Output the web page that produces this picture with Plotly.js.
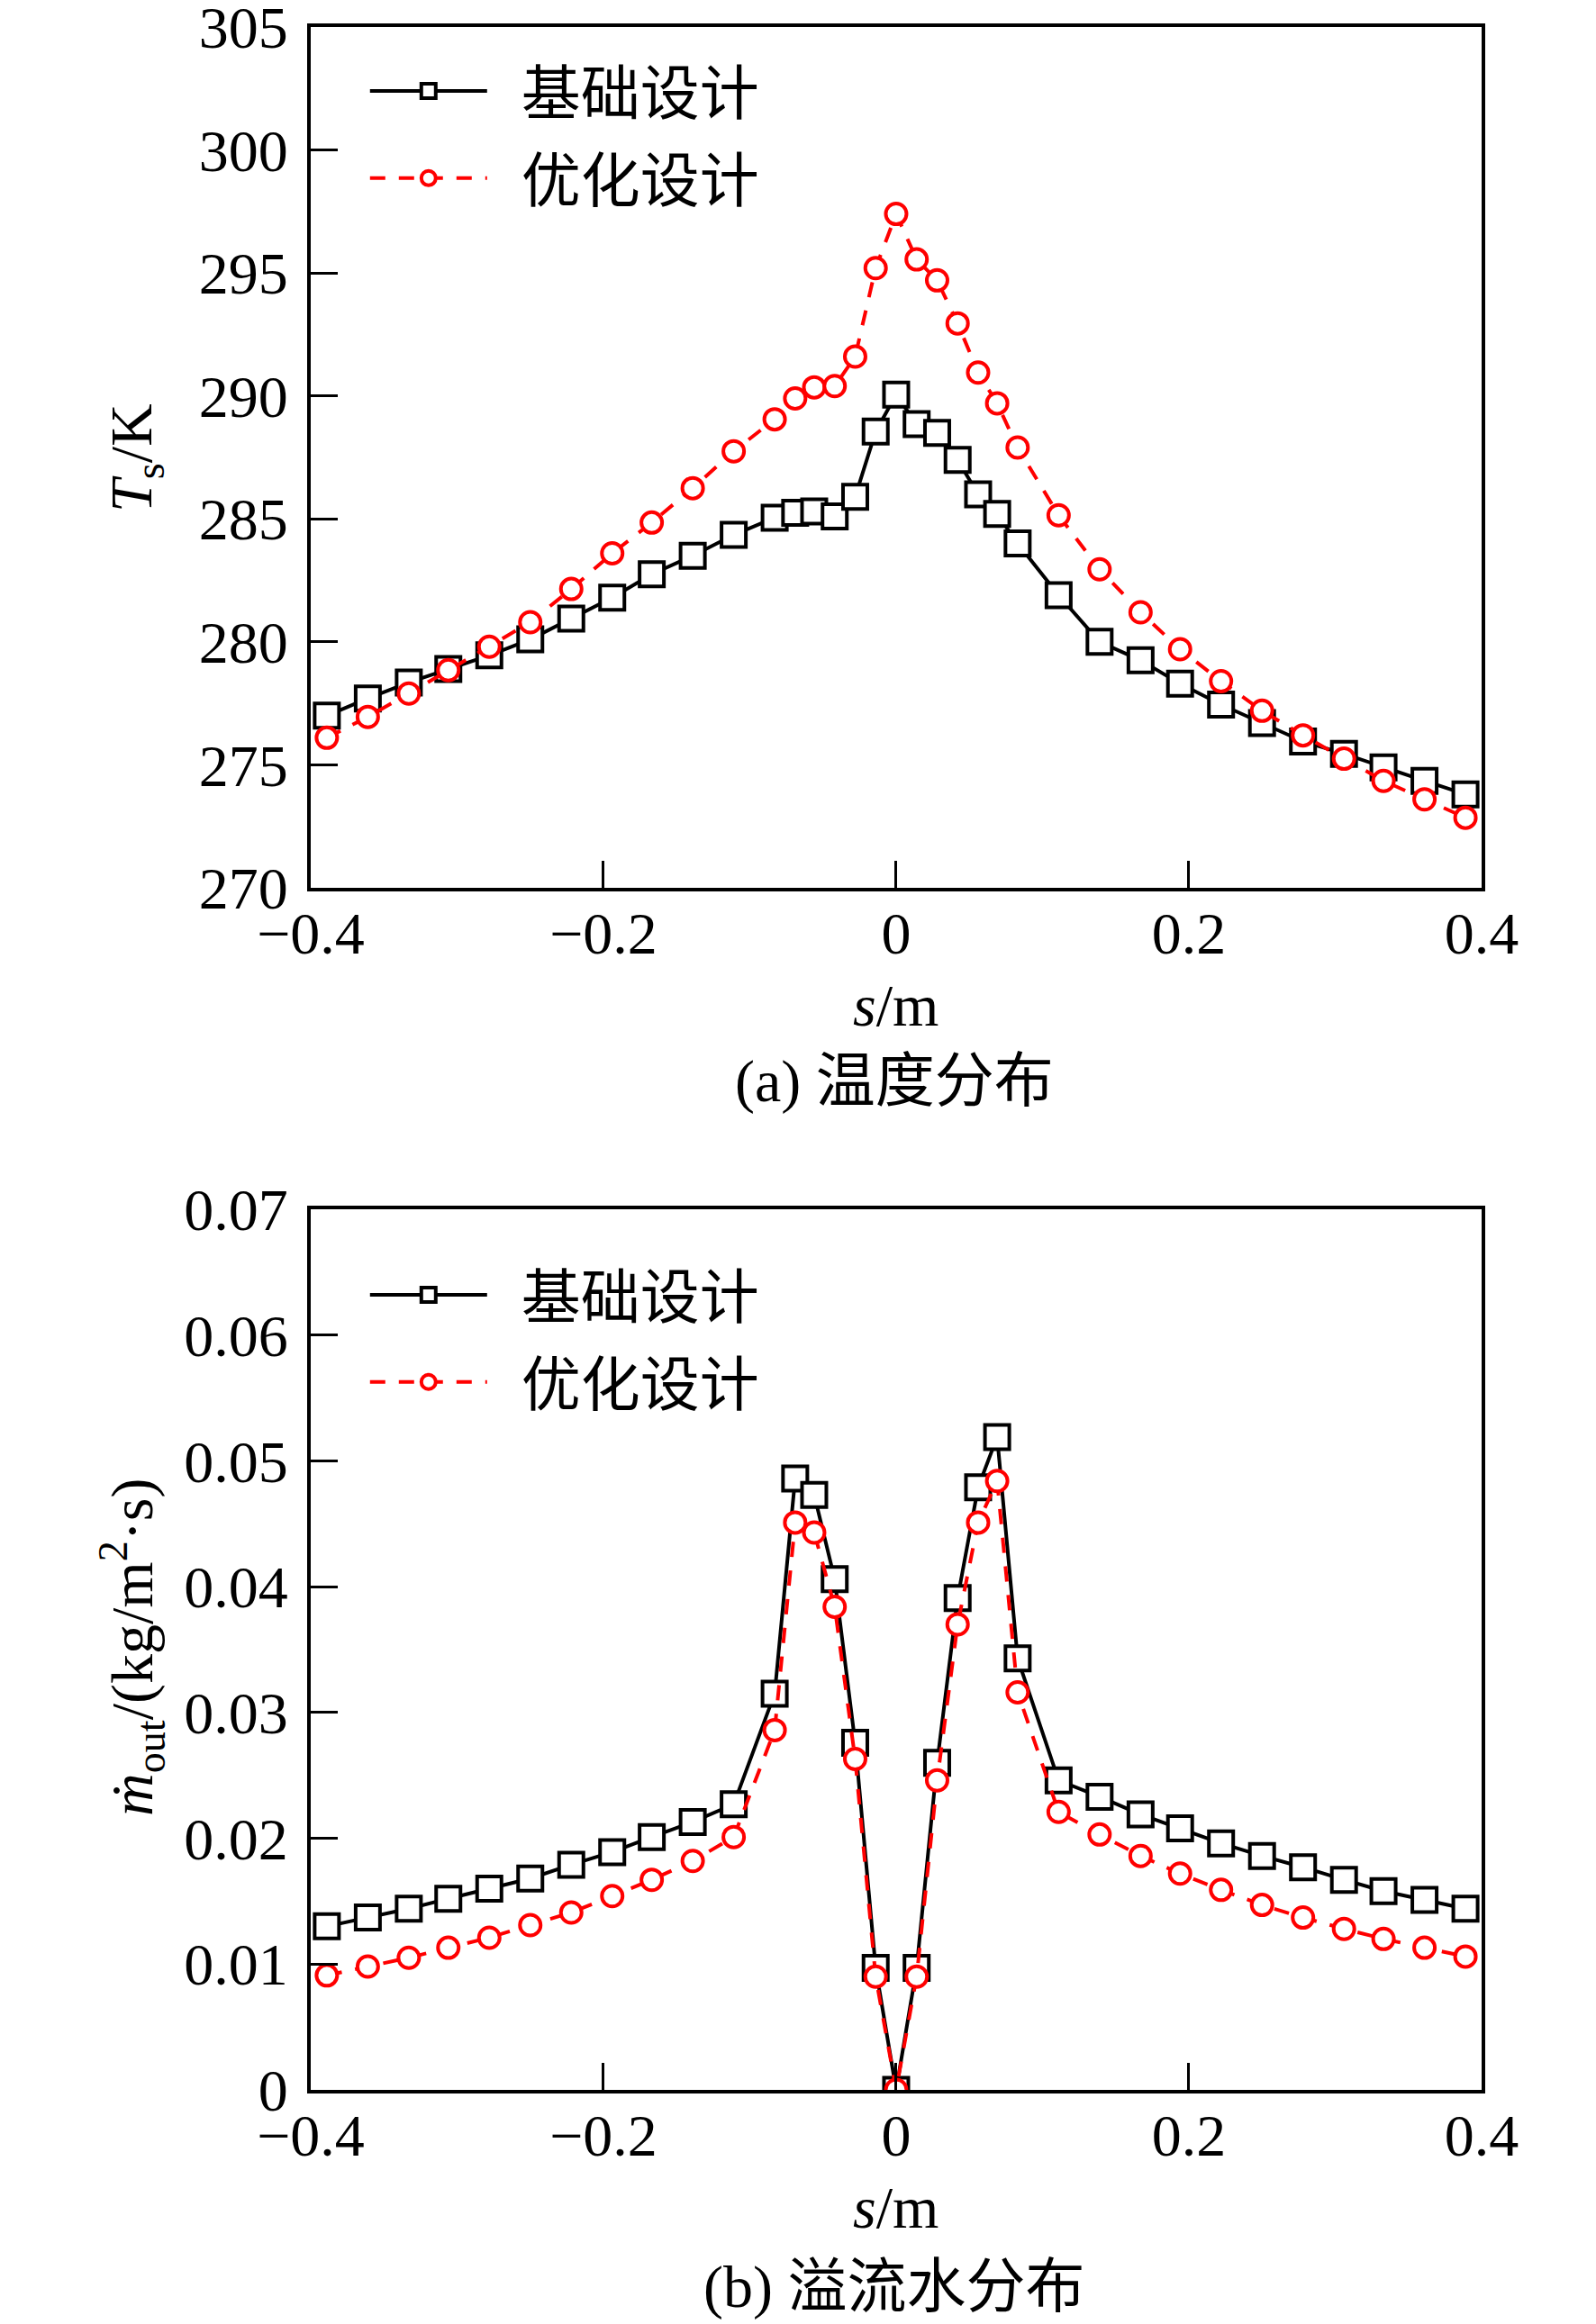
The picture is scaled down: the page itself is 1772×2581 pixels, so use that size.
<!DOCTYPE html>
<html>
<head>
<meta charset="utf-8">
<script src="https://cdn.plot.ly/plotly-3.0.1.min.js"></script>
<style>html,body{margin:0;padding:0;background:#fff;}#chart{width:1772px;height:2581px;}</style>
</head>
<body>
<div id="chart"></div>
<script>
// position along surface (m)
var s = [-0.389,-0.361,-0.333,-0.306,-0.278,-0.250,-0.222,-0.194,-0.167,-0.139,-0.111,-0.083,-0.069,-0.056,-0.042,-0.028,-0.014,0,0.014,0.028,0.042,0.056,0.069,0.083,0.111,0.139,0.167,0.194,0.222,0.250,0.278,0.306,0.333,0.361,0.389];
// (a) surface temperature, K
var tempBase = [277.0,277.7,278.35,278.9,279.45,280.1,280.95,281.8,282.75,283.5,284.35,285.05,285.25,285.3,285.1,285.9,288.55,290.05,288.85,288.5,287.4,286.0,285.2,284.0,281.9,280.0,279.25,278.3,277.45,276.7,275.95,275.45,274.9,274.35,273.8];
var tempOpt = [276.1,276.95,277.9,278.85,279.8,280.8,282.15,283.6,284.85,286.25,287.75,289.05,289.9,290.35,290.4,291.6,295.2,297.4,295.55,294.7,292.95,290.95,289.7,287.9,285.15,282.95,281.2,279.7,278.4,277.2,276.2,275.25,274.35,273.6,272.85];
// (b) runback water flux, kg/(m2 s)
var flowBase = [0.0130,0.0137,0.0144,0.0152,0.0160,0.0168,0.0179,0.0189,0.0201,0.0213,0.0227,0.0315,0.0486,0.0473,0.0406,0.0276,0.0097,0,0.0097,0.0260,0.0391,0.0479,0.0519,0.0343,0.0246,0.0233,0.0219,0.0208,0.0196,0.0186,0.0177,0.0167,0.0158,0.0151,0.0144];
var flowOpt = [0.0091,0.0098,0.0105,0.0113,0.0121,0.0131,0.0141,0.0154,0.0167,0.0182,0.0201,0.0286,0.0451,0.0443,0.0384,0.0263,0.0090,0,0.0090,0.0246,0.0370,0.0451,0.0484,0.0316,0.0221,0.0203,0.0186,0.0172,0.0159,0.0147,0.0137,0.0128,0.0120,0.0113,0.0106];
var seriesNames = ['基础设计','优化设计'];
var xTicks = [-0.4,-0.2,0,0.2,0.4];
var xTickText = ['\u22120.4','\u22120.2','0','0.2','0.4'];
var captions = ['(a) 温度分布','(b) 溢流水分布'];

var FONT = 'Liberation Serif, Times New Roman, Noto Sans CJK SC, serif';
var FS = 66;

function baseTrace(x, y, xa, ya, leg){
  return {x:x, y:y, xaxis:xa, yaxis:ya, type:'scatter', mode:'lines+markers', name:'\u2002' + seriesNames[0],
    legend:leg, legendgroup:leg+'a',
    line:{color:'#000', width:4},
    marker:{symbol:'square', size:27, color:'#fff', line:{color:'#000', width:4}}};
}
function optTrace(x, y, xa, ya, leg){
  return {x:x, y:y, xaxis:xa, yaxis:ya, type:'scatter', mode:'lines+markers', name:'\u2002' + seriesNames[1],
    legend:leg, legendgroup:leg+'b',
    line:{color:'#ff0000', width:4, dash:'17px,15px'},
    marker:{symbol:'circle', size:23, color:'#fff', line:{color:'#ff0000', width:4}}};
}

var data = [
  baseTrace(s, tempBase, 'x', 'y', 'legend'),
  optTrace(s, tempOpt, 'x', 'y', 'legend'),
  baseTrace(s, flowBase, 'x2', 'y2', 'legend2'),
  optTrace(s, flowOpt, 'x2', 'y2', 'legend2')
];

function xAxis(anchor){
  return {domain:[0.1947,0.9283], anchor:anchor, range:[-0.4,0.4], tickmode:'array', tickvals:xTicks, ticktext:xTickText,
    ticks:'inside', ticklen:30, tickwidth:3, tickcolor:'#000', showline:true, linewidth:4, linecolor:'#000', mirror:true,
    showgrid:false, zeroline:false, tickfont:{family:FONT, size:FS, color:'#000'}, ticklabelstandoff:-10,
    ticklabeloverflow:'allow'};
}
function yAxis(anchor, dom, rng, dt){
  return {domain:dom, anchor:anchor, range:rng, dtick:dt, tick0:0,
    ticks:'inside', ticklen:30, tickwidth:3, tickcolor:'#000', showline:true, linewidth:4, linecolor:'#000', mirror:true,
    showgrid:false, zeroline:false, tickfont:{family:FONT, size:FS, color:'#000'}, ticklabelstandoff:8,
    ticklabeloverflow:'allow'};
}
function legendCfg(y){
  return {x:0.2290, y:y, xanchor:'left', yanchor:'top', bgcolor:'rgba(0,0,0,0)', borderwidth:0,
    font:{family:FONT, size:FS, color:'#000'}, itemwidth:130, traceorder:'grouped', tracegroupgap:8, itemsizing:'trace'};
}
function ann(text, x, y, angle){
  return {text:text, x:x, y:y, xref:'paper', yref:'paper', showarrow:false, textangle:angle||0,
    xanchor:'center', yanchor:'middle', font:{family:FONT, size:FS, color:'#000'}};
}

var layout = {
  width:1772, height:2581, margin:{l:0,r:0,t:0,b:0}, paper_bgcolor:'#fff', plot_bgcolor:'#fff',
  showlegend:true,
  xaxis:xAxis('y'),
  yaxis:yAxis('x', [0.61798,0.98838], [270,305], 5),
  xaxis2:xAxis('y2'),
  yaxis2:yAxis('x2', [0.10074,0.47966], [0,0.07], 0.01),
  legend:legendCfg(0.9800),
  legend2:legendCfg(0.4620),
  annotations:[
    ann('<i>T</i><sub>s</sub>/K', 0.0852, 0.8032, -90),
    ann('<i>s</i>/m', 0.5615, 0.5676),
    ann(captions[0], 0.5603, 0.5347),
    ann('<i>\u1E41</i><sub>out</sub>/(kg/m<sup>2</sup>\u00B7s)', 0.0830, 0.2910, -90),
    ann('<i>s</i>/m', 0.5615, 0.0500),
    ann(captions[1], 0.5603, 0.0159)
  ]
};

Plotly.newPlot('chart', data, layout, {displayModeBar:false, staticPlot:true});
</script>
</body>
</html>
